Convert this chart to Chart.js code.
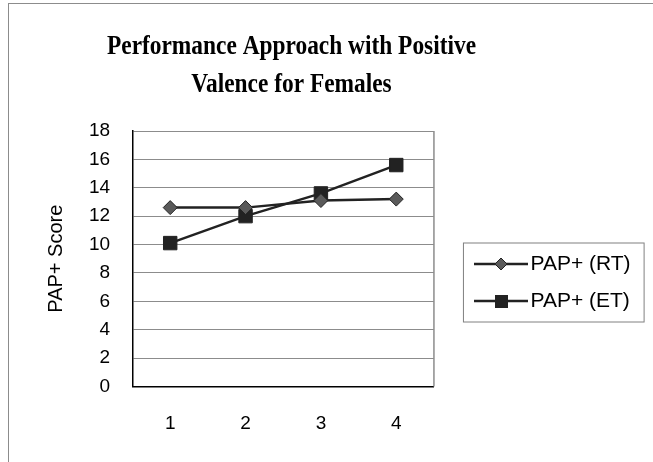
<!DOCTYPE html>
<html lang="en">
<head>
  <meta charset="UTF-8" />
  <title>Performance Approach with Positive Valence for Females</title>
  <script src="https://cdn.jsdelivr.net/npm/chart.js"></script>
  <style>
    html, body { margin: 0; padding: 0; background: #fff; overflow: hidden; }
    .wrap { position: relative; width: 653px; height: 462px; }
    .frame {
      position: absolute; left: 8px; top: 3px; width: 700px; height: 500px;
      border-left: 1px solid #8c8c8c; border-top: 1px solid #8c8c8c;
    }
    canvas { position: absolute; left: 0; top: 0; }
  </style>
</head>
<body>
  <div class="wrap">
    <div class="frame"></div>
    <canvas id="chart" width="653" height="462"></canvas>
  </div>

  <script>
    // chart data
    const titleLines = ["Performance Approach with Positive", "Valence for Females"];
    const categories = ["1", "2", "3", "4"];
    const seriesNames = ["PAP+ (RT)", "PAP+ (ET)"];
    const rtScores = [12.6, 12.6, 13.1, 13.2];
    const etScores = [10.1, 12.0, 13.6, 15.6];
    const yTitle = "PAP+ Score";

    const ink = "#222222";
    const sans = "'Liberation Sans', Arial, sans-serif";

    // little line + marker pictures for the legend
    function makeIcon(kind) {
      const c = document.createElement("canvas");
      c.width = 86; c.height = 20;
      const g = c.getContext("2d");
      g.strokeStyle = ink;
      g.lineWidth = 2.5;
      g.beginPath(); g.moveTo(32, 10); g.lineTo(86, 10); g.stroke();
      g.lineWidth = 1;
      if (kind === "diamond") {
        g.fillStyle = "#5a5a5a";
        g.beginPath();
        g.moveTo(53, 10); g.lineTo(59, 4); g.lineTo(65, 10); g.lineTo(59, 16);
        g.closePath(); g.fill(); g.stroke();
      } else {
        g.fillStyle = ink;
        g.fillRect(53, 4, 13, 13);
      }
      return c;
    }
    const legendIcons = [makeIcon("diamond"), makeIcon("square")];

    // the title in the original is a tall, narrow Times bold
    const chartTitle = {
      id: "chartTitle",
      afterDraw(chart) {
        const ctx = chart.ctx;
        ctx.save();
        ctx.font = "bold 27px 'Liberation Serif', 'Times New Roman', serif";
        ctx.fillStyle = "#000";
        ctx.textAlign = "center";
        ctx.textBaseline = "middle";
        [47, 85].forEach((y, i) => {
          ctx.save();
          ctx.translate(291.5, y);
          ctx.scale(0.866, 1);
          ctx.fillText(titleLines[i], 0, 0);
          ctx.restore();
        });
        ctx.restore();
      }
    };

    // grey right edge of the plot and a border round the legend
    const frames = {
      id: "frames",
      beforeDatasetsDraw(chart) {
        const a = chart.chartArea;
        const ctx = chart.ctx;
        ctx.save();
        ctx.strokeStyle = "#8c8c8c";
        ctx.lineWidth = 1.5;
        ctx.beginPath();
        ctx.moveTo(a.right, a.top);
        ctx.lineTo(a.right, a.bottom);
        ctx.stroke();
        ctx.restore();
      },
      afterDraw(chart) {
        const boxes = chart.legend.legendHitBoxes;
        if (!boxes || !boxes.length) return;
        const first = boxes[0], last = boxes[boxes.length - 1];
        const right = Math.max(...boxes.map(b => b.left + b.width));
        const x0 = first.left + 13.5, y0 = first.top - 10.5;
        const ctx = chart.ctx;
        ctx.save();
        ctx.strokeStyle = "#808080";
        ctx.lineWidth = 1;
        ctx.strokeRect(x0, y0, right + 13.5 - x0, last.top + last.height + 10.5 - y0);
        ctx.restore();
      }
    };

    new Chart(document.getElementById("chart"), {
      type: "line",
      data: {
        labels: categories,
        datasets: [
          {
            label: seriesNames[0],
            data: rtScores,
            borderColor: ink,
            borderWidth: 2.5,
            pointStyle: "rectRot",
            pointRadius: 7,
            pointBackgroundColor: "#5a5a5a",
            pointBorderColor: ink,
            pointBorderWidth: 1
          },
          {
            label: seriesNames[1],
            data: etScores,
            borderColor: ink,
            borderWidth: 2.5,
            pointStyle: "rect",
            pointRadius: 9.5,
            pointBackgroundColor: ink,
            pointBorderColor: ink,
            pointBorderWidth: 1
          }
        ]
      },
      options: {
        responsive: false,
        animation: false,
        layout: { padding: { top: 131, left: 40, right: 12.4, bottom: 0 } },
        scales: {
          x: {
            offset: true,
            grid: { display: false, drawTicks: false },
            border: { color: "#000", width: 1.5 },
            ticks: { color: "#000", padding: 26.4, font: { family: sans, size: 19 } }
          },
          y: {
            min: 0,
            max: 18,
            ticks: { stepSize: 2, color: "#000", padding: 22.5, font: { family: sans, size: 19 } },
            grid: { color: "#8c8c8c", lineWidth: 1, drawTicks: false },
            border: { color: "#000", width: 1.5 },
            title: {
              display: true,
              text: yTitle,
              color: "#000",
              padding: { top: 7.4, bottom: 0 },
              font: { family: sans, size: 20, lineHeight: 0.95 }
            }
          }
        },
        plugins: {
          title: { display: false },
          tooltip: { enabled: false },
          legend: {
            position: "right",
            align: "start",
            maxWidth: 230,
            // empty legend title only pushes the entries down to the middle of the plot
            title: { display: true, text: "", padding: { top: 106.5, bottom: 0 }, font: { size: 1, lineHeight: 0 } },
            labels: {
              usePointStyle: true,
              pointStyleWidth: 70,
              padding: 16,
              color: "#000",
              font: { family: sans, size: 21 },
              generateLabels: chart => chart.data.datasets.map((ds, i) => ({
                text: ds.label,
                pointStyle: legendIcons[i],
                datasetIndex: i,
                hidden: false,
                lineWidth: 0,
                fillStyle: "transparent",
                strokeStyle: "transparent",
                fontColor: "#000"
              }))
            }
          }
        }
      },
      plugins: [chartTitle, frames]
    });
  </script>
</body>
</html>
